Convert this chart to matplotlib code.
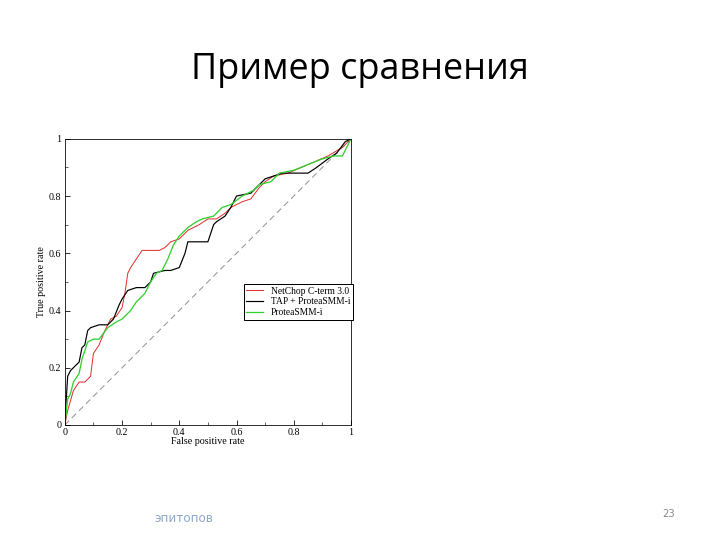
import matplotlib
matplotlib.use("Agg")
import matplotlib.pyplot as plt

red_x = [0,0.01,0.03,0.05,0.07,0.09,0.10,0.12,0.14,0.16,0.18,0.20,0.21,0.22,0.23,0.25,0.27,0.30,0.33,0.35,0.37,0.40,0.43,0.47,0.50,0.53,0.56,0.58,0.62,0.65,0.68,0.70,0.73,0.78,0.85,0.92,0.97,1.0]
red_y = [0,0.05,0.12,0.15,0.15,0.17,0.25,0.28,0.33,0.37,0.38,0.41,0.46,0.53,0.55,0.58,0.61,0.61,0.61,0.62,0.64,0.65,0.68,0.70,0.72,0.72,0.74,0.76,0.78,0.79,0.83,0.85,0.87,0.88,0.91,0.94,0.97,1.0]
blk_x = [0,0.005,0.01,0.02,0.03,0.04,0.05,0.06,0.07,0.08,0.09,0.12,0.15,0.17,0.19,0.20,0.22,0.25,0.28,0.30,0.31,0.35,0.37,0.40,0.42,0.43,0.45,0.50,0.52,0.53,0.56,0.58,0.60,0.65,0.68,0.70,0.73,0.76,0.85,0.88,0.92,0.95,0.98,1.0]
blk_y = [0,0.09,0.17,0.19,0.20,0.21,0.22,0.27,0.28,0.33,0.34,0.35,0.35,0.37,0.42,0.44,0.47,0.48,0.48,0.50,0.53,0.54,0.54,0.55,0.60,0.64,0.64,0.64,0.70,0.71,0.73,0.76,0.80,0.81,0.84,0.86,0.87,0.88,0.88,0.90,0.93,0.95,0.99,1.0]
grn_x = [0,0.01,0.02,0.03,0.05,0.06,0.08,0.10,0.12,0.15,0.18,0.20,0.23,0.25,0.28,0.30,0.32,0.34,0.36,0.38,0.40,0.43,0.46,0.48,0.52,0.55,0.58,0.62,0.66,0.68,0.72,0.75,0.80,0.85,0.90,0.94,0.97,1.0]
grn_y = [0,0.09,0.11,0.15,0.18,0.23,0.29,0.30,0.30,0.34,0.36,0.37,0.40,0.43,0.46,0.50,0.53,0.54,0.58,0.63,0.66,0.69,0.71,0.72,0.73,0.76,0.77,0.80,0.82,0.84,0.85,0.88,0.89,0.91,0.93,0.94,0.94,1.0]

fig = plt.figure(figsize=(10, 7.5), dpi=72)
fig.text(0.5, 0.87, "Пример сравнения", ha="center", va="center", fontsize=36, family="Open Sans")
fig.text(0.215, 0.04, "эпитопов", ha="left", va="center", fontsize=12, color="#8fa8c8")
fig.text(0.928, 0.048, "23", ha="center", va="center", fontsize=10, color="#888888")

ax = fig.add_axes([0.090, 0.213, 0.3975, 0.53])
ax.plot([0, 1], [0, 1], ls=(0, (6, 4)), color="#999090", lw=1)
ax.plot(red_x, red_y, color="#e03030", lw=1, label="NetChop C-term 3.0")
ax.plot(blk_x, blk_y, color="#000000", lw=1.2, label="TAP + ProteaSMM-i")
ax.plot(grn_x, grn_y, color="#30d030", lw=1.3, label="ProteaSMM-i")
ax.set_xlim(0, 1)
ax.set_ylim(0, 1)
ax.set_xticks([0, 0.2, 0.4, 0.6, 0.8, 1], ["0", "0.2", "0.4", "0.6", "0.8", "1"])
ax.set_yticks([0, 0.2, 0.4, 0.6, 0.8, 1], ["0", "0.2", "0.4", "0.6", "0.8", "1"])
ax.set_xticks([0.1, 0.3, 0.5, 0.7, 0.9], minor=True)
ax.set_yticks([0.1, 0.3, 0.5, 0.7, 0.9], minor=True)
ax.tick_params(direction="in", labelsize=10, length=5)
ax.tick_params(which="minor", direction="in", length=3)
for lbl in ax.get_xticklabels() + ax.get_yticklabels():
    lbl.set_family("Liberation Serif")
ax.set_xlabel("False positive rate", family="Liberation Serif", fontsize=10, labelpad=0)
ax.set_ylabel("True positive rate", family="Liberation Serif", fontsize=10, labelpad=3)
ax.legend(loc="center right", bbox_to_anchor=(1.025, 0.43), prop={"family": "Liberation Serif", "size": 9.5},
          frameon=True, fancybox=False, edgecolor="black", framealpha=1, handlelength=1.8, borderpad=0.3, labelspacing=0.2)
fig.savefig("out.png", dpi=72)
